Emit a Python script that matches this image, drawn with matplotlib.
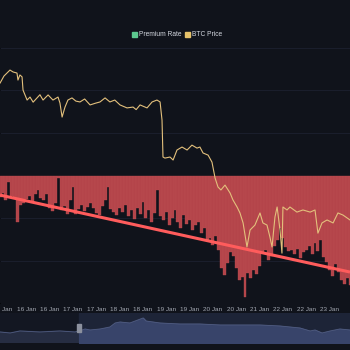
import numpy as np
import matplotlib.pyplot as plt
from matplotlib.patches import Rectangle

# Datos (horas desde 15 Jan 00:00)
bar_start = 10.5
bar_step = 1.5
premium = [-0.101, -0.082, -0.115, -0.031, -0.096, -0.106, -0.219, -0.139, -0.129, -0.111,
           -0.096, -0.120, -0.087, -0.068, -0.106, -0.115, -0.087, -0.153, -0.167, -0.129,
           -0.012, -0.162, -0.144, -0.181, -0.115, -0.054, -0.181, -0.158, -0.139, -0.167,
           -0.148, -0.129, -0.153, -0.176, -0.186, -0.144, -0.115, -0.054, -0.158, -0.172,
           -0.186, -0.153, -0.172, -0.139, -0.191, -0.162, -0.205, -0.153, -0.181, -0.125,
           -0.200, -0.162, -0.219, -0.176, -0.068, -0.191, -0.209, -0.172, -0.233, -0.200,
           -0.162, -0.219, -0.247, -0.186, -0.228, -0.209, -0.256, -0.233, -0.219, -0.271,
           -0.247, -0.304, -0.294, -0.327, -0.285, -0.351, -0.435, -0.468, -0.412, -0.360,
           -0.379, -0.435, -0.492, -0.478, -0.572, -0.459, -0.482, -0.445, -0.464, -0.426,
           -0.365, -0.351, -0.398, -0.379, -0.332, -0.304, -0.247, -0.294, -0.336, -0.355,
           -0.351, -0.369, -0.346, -0.388, -0.360, -0.351, -0.332, -0.369, -0.318, -0.355,
           -0.304, -0.384, -0.407, -0.445, -0.473, -0.416, -0.454, -0.492, -0.511, -0.482,
           -0.515]

price_hours = [10.5, 12.5, 14.6, 15.6, 17.2, 19.2, 19.7, 20.7, 21.8, 22.3, 24.4, 25.9, 27.5,
               29.5, 31.0, 32.6, 35.2, 37.7, 40.3, 41.3, 42.4, 43.9, 45.4, 47.5, 49.5, 51.6,
               54.0, 56.8, 59.5, 61.9, 64.5, 67.0, 69.5, 72.2, 75.8, 78.9, 80.5, 82.5, 86.1,
               88.7, 91.2, 92.8, 93.8, 94.3, 95.3, 97.9, 99.5, 101.5, 104.1, 106.7, 109.2,
               111.8, 113.3, 114.9, 117.5, 119.5, 121.1, 122.6, 124.1, 126.2, 128.8, 130.3,
               132.4, 133.9, 135.5, 137.5, 139.1, 141.6, 144.2, 145.7, 147.8, 149.3, 150.4,
               151.9, 153.0, 154.5, 155.5, 156.0, 158.1, 159.6, 163.2, 166.3, 170.0, 172.5,
               174.0, 176.1, 178.7, 181.8, 184.3, 186.9, 190.5]
btc_price = [96350, 96680, 96870, 96960, 96870, 96820, 96490, 96730, 96640, 96020, 95550,
             95690, 95450, 95650, 95800, 95550, 95790, 95550, 95690, 95410, 94750, 95220,
             95550, 95650, 95500, 95460, 95600, 95320, 95400, 95460, 95650, 95460, 95550,
             95320, 95180, 95220, 95100, 95320, 95180, 95460, 95550, 95460, 94610, 92870,
             92820, 92870, 92730, 93200, 93340, 93200, 93430, 93290, 93340, 93060, 92960,
             92630, 91880, 91460, 91320, 91550, 91180, 90850, 90520, 90240, 89770, 88640,
             89440, 89670, 90240, 89770, 89670, 89110, 88640, 90050, 90520, 89440, 88350,
             90520, 90380, 90520, 90280, 90380, 90280, 90380, 89290, 89770, 89910, 89770,
             90240, 90140, 89910]

trend_hours = [10.5, 190.5]
trend_premium = [-0.092, -0.454]

tick_hours = [12, 24, 36, 48, 60, 72, 84, 96, 108, 120, 132, 144, 156, 168, 180, 192]
tick_labels = ["15 Jan", "16 Jan", "16 Jan", "17 Jan", "17 Jan", "18 Jan", "18 Jan", "19 Jan",
               "19 Jan", "20 Jan", "20 Jan", "21 Jan", "22 Jan", "22 Jan", "23 Jan", "23 Jan"]

# Vista general del slider (porcentaje del rango, nivel relativo)
slider_pct = [0, 2.9, 5.7, 11.4, 17.1, 21.4, 22.6, 24.3, 25.7, 28.6, 31.4, 32.9, 34.3, 37.1,
              40.9, 41.7, 45.7, 51.4, 57.1, 62.9, 68.6, 74.3, 80, 85.7, 88.6, 90, 92, 94.3,
              97.1, 100]
slider_level = [11, 10, 12, 11, 12, 11, 12, 14, 13, 14, 16, 20, 21, 20, 25, 22, 20, 19, 19,
                18, 18, 18, 17, 15, 12, 13, 10, 12, 14, 13]
slider_window = (22.6, 100)

bg = '#10131b'
fig = plt.figure(figsize=(3.5, 3.5), dpi=100, facecolor=bg)
plt.rcParams['font.family'] = ['Liberation Sans', 'DejaVu Sans']

ax = fig.add_axes([0, 0.134, 1, 0.729])
ax.set_facecolor('none')
bar_hours = bar_start + bar_step * np.arange(len(premium))
ax.bar(bar_hours, premium, width=bar_step, color='#b4444a', edgecolor='#bf5052',
       linewidth=0.25, zorder=2)
ax.set_ylim(-0.6, 0.6)
ax.set_yticks(np.arange(-0.6, 0.61, 0.2))
ax.grid(axis='y', color='#1c2130', linewidth=0.6, zorder=0)
ax.set_xlim(10.46, 190.5)
ax.set_xticks(tick_hours)
ax.set_xticklabels(tick_labels)
ax.tick_params(axis='x', length=0, pad=2.5, labelsize=4.6, colors='#a3a8b2')
ax.tick_params(axis='y', left=False, labelleft=False)
for s in ax.spines.values():
    s.set_visible(False)

ax2 = ax.twinx()
ax2.plot(price_hours, btc_price, color='#e3c07c', linewidth=0.8, zorder=3)
ax2.set_ylim(86000, 98000)
ax2.set_yticks([])
ax2.set_xlim(10.46, 190.5)
for s in ax2.spines.values():
    s.set_visible(False)

ax3 = ax.twinx()
ax3.plot(trend_hours, trend_premium, color='#ff5c5c', linewidth=2.2, solid_capstyle='butt')
ax3.set_ylim(-0.6, 0.6)
ax3.set_yticks([])
for s in ax3.spines.values():
    s.set_visible(False)

# Leyenda
fig.patches.append(Rectangle((132 / 350, 1 - 37 / 350), 5 / 350, 5 / 350,
                             transform=fig.transFigure, color='#5cc98f'))
fig.text(139 / 350, 1 - 34.5 / 350, "Premium Rate", fontsize=4.8, color='#d4d8e0', va='center')
fig.patches.append(Rectangle((185 / 350, 1 - 37 / 350), 5 / 350, 5 / 350,
                             transform=fig.transFigure, color='#e6c26a'))
fig.text(192 / 350, 1 - 34.5 / 350, "BTC Price", fontsize=4.8, color='#d4d8e0', va='center')

# Slider
axs = fig.add_axes([0, 7 / 350, 1, 30 / 350])
axs.set_facecolor('#131722')
axs.set_xlim(0, 100)
axs.set_ylim(0, 30)
axs.axvspan(slider_window[0], slider_window[1], color='#1d2437', zorder=0)
sp = np.array(slider_pct)
sl = np.array(slider_level)
axs.fill_between(sp, sl, 0, color='#262d42', zorder=1)
axs.fill_between(sp, sl, 0, where=sp >= slider_window[0], color='#38446a', zorder=2)
axs.plot(sp, sl, color='#4f5b80', linewidth=0.6, zorder=3)
axs.add_patch(Rectangle((slider_window[0] - 0.6, 11), 1.2, 8, color='#8c919e', zorder=4))
axs.set_xticks([])
axs.set_yticks([])
for s in axs.spines.values():
    s.set_visible(False)

fig.savefig('out.png', dpi=100, facecolor=bg)
